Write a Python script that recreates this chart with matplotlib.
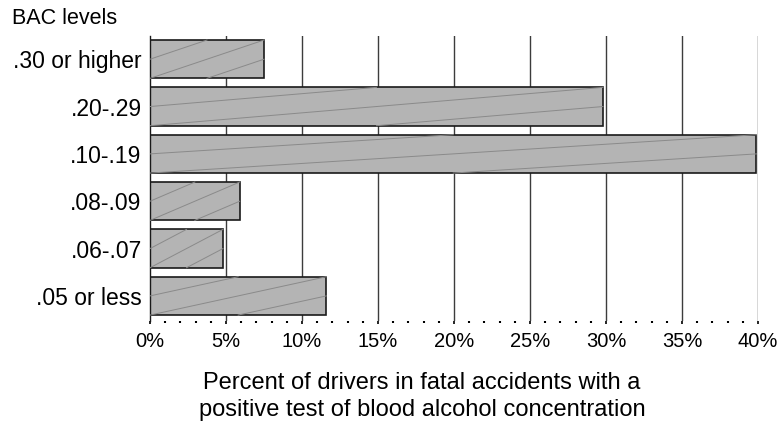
import numpy as np
import matplotlib.pyplot as plt
from matplotlib.ticker import MultipleLocator, FuncFormatter

# Данные (сверху вниз)
levels = [".30 or higher", ".20-.29", ".10-.19", ".08-.09", ".06-.07", ".05 or less"]
percents = [7.5, 29.8, 39.9, 5.9, 4.8, 11.6]

plt.rcParams['font.family'] = ['Liberation Sans', 'DejaVu Sans']

fig = plt.figure(figsize=(7.82, 4.22), dpi=100)
ax = fig.add_axes([150 / 782, 1 - 321 / 422, 608 / 782, 285 / 422])

ypos = np.arange(len(levels))[::-1]
h = 0.81

# Сетка позади столбиков
for gx in range(5, 45, 5):
    ax.axvline(gx, color='#3c3c3c', linewidth=1.0, zorder=1)

ax.barh(ypos, percents, height=h, color='#b4b4b4', edgecolor='#1a1a1a',
        linewidth=1.2, zorder=2)

# Диагональная штриховка внутри каждого столбика (в нормированных координатах)
for y, w in zip(ypos, percents):
    y0 = y - h / 2
    for c in (0.5, 0.0, -0.5):
        u = np.array([max(0.0, -c), min(1.0, 1.0 - c)])
        v = u + c
        ax.plot(u * w, y0 + v * h, color='#8a8a8a', linewidth=0.7, zorder=3)

ax.set_xlim(0, 40)
ax.set_ylim(-0.53, 5.49)
ax.set_yticks(ypos)
ax.set_yticklabels(levels, fontsize=16.5)
ax.tick_params(axis='y', length=0, pad=6)

ax.xaxis.set_major_locator(MultipleLocator(5))
ax.xaxis.set_minor_locator(MultipleLocator(1))
ax.xaxis.set_major_formatter(FuncFormatter(lambda x, p: f"{int(x)}%"))
ax.tick_params(axis='x', which='major', length=2, width=1.2, labelsize=14.5, pad=6)
ax.tick_params(axis='x', which='minor', length=1.5, width=1.5)

for s in ('top', 'right', 'bottom'):
    ax.spines[s].set_visible(False)
ax.spines['left'].set_linewidth(1.0)
ax.spines['left'].set_color('#1a1a1a')

fig.text(12 / 782, 1 - 18 / 422, "BAC levels", fontsize=15.5, ha='left', va='center')
fig.text(422 / 782, 1 - 383 / 422, "Percent of drivers in fatal accidents with a",
         fontsize=17, ha='center', va='center')
fig.text(422 / 782, 1 - 410 / 422, "positive test of blood alcohol concentration",
         fontsize=17, ha='center', va='center')

fig.savefig("out.png", dpi=100)
